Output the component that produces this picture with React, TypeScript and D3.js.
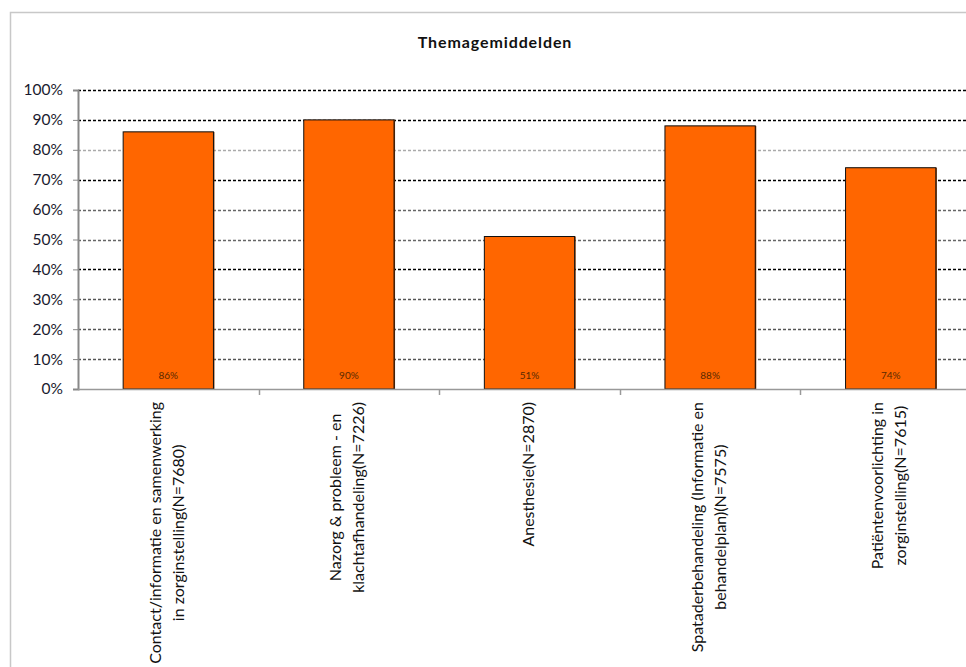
import React, { useEffect, useRef } from "react";
import * as d3 from "d3";

const title = "Themagemiddelden";
const categories: string[][] = [
  ["Contact/informatie en samenwerking", "in zorginstelling(N=7680)"],
  ["Nazorg & probleem - en", "klachtafhandeling(N=7226)"],
  ["Anesthesie(N=2870)"],
  ["Spataderbehandeling (Informatie en", "behandelplan)(N=7575)"],
  ["Patiëntenvoorlichting in", "zorginstelling(N=7615)"],
];
const values = [86, 90, 51, 88, 74];
const yTicks = [0, 10, 20, 30, 40, 50, 60, 70, 80, 90, 100];
const gridColors: Record<number, string> = {
  100: "#000", 90: "#000", 80: "#aaa", 70: "#000", 60: "#666",
  50: "#666", 40: "#000", 30: "#555", 20: "#555", 10: "#555",
};

const W = 966, H = 667;
const M = { left: 78, top: 90, right: 981, bottom: 389 };
const FONT = "Lato, 'Open Sans', sans-serif";

export default function App() {
  const ref = useRef<SVGSVGElement>(null);
  useEffect(() => {
    const svg = d3.select(ref.current);
    svg.selectAll("*").remove();
    const ids = categories.map((_, i) => String(i));
    const x = d3.scaleBand().domain(ids).range([M.left, M.right]).paddingInner(0.5).paddingOuter(0.25);
    const xb = d3.scaleBand().domain(ids).range([M.left, M.right]);
    const y = d3.scaleLinear().domain([0, 100]).range([M.bottom, M.top]);

    svg.append("rect").attr("width", W).attr("height", H).attr("fill", "#fff");
    // outer frame
    svg.append("rect").attr("x", 10.5).attr("y", 12.5).attr("width", 1000).attr("height", 1000)
      .attr("fill", "none").attr("stroke", "#c8c8c8").attr("stroke-width", 1.5);

    svg.append("text").attr("x", 495).attr("y", 48).attr("text-anchor", "middle")
      .attr("font-family", FONT).attr("font-weight", "bold").attr("font-size", 16)
      .attr("letter-spacing", 0.9).attr("fill", "#111").text(title);

    // gridlines
    yTicks.filter(t => t > 0).forEach(t => {
      svg.append("line").attr("x1", M.left).attr("x2", W).attr("y1", Math.round(y(t)) + 0.5).attr("y2", Math.round(y(t)) + 0.5)
        .attr("stroke", gridColors[t]).attr("stroke-width", 1.3).attr("stroke-dasharray", "3,2");
    });

    // y axis
    const yAxis = d3.axisLeft(y).tickValues(yTicks).tickFormat(d => `${d}%`).tickSize(5).tickPadding(10);
    const gy = svg.append("g").attr("transform", `translate(${M.left},0)`).call(yAxis);
    gy.select(".domain").attr("stroke", "#888").attr("stroke-width", 2);
    gy.selectAll(".tick line").attr("stroke", "#888");
    gy.selectAll(".tick text").attr("font-family", FONT).attr("font-size", 15.5).attr("fill", "#1a1a2e");

    // bars
    const g = svg.append("g");
    values.forEach((v, i) => {
      const bx = x(String(i))!, bw = x.bandwidth();
      g.append("rect").attr("x", bx + 1).attr("y", y(v)).attr("width", bw).attr("height", M.bottom - y(v))
        .attr("fill", "#7a3300");
      g.append("rect").attr("x", bx).attr("y", y(v)).attr("width", bw).attr("height", M.bottom - y(v))
        .attr("fill", "#ff6600").attr("stroke", "#111").attr("stroke-width", 1);
      g.append("text").attr("x", bx + bw / 2).attr("y", 379).attr("text-anchor", "middle")
        .attr("font-family", FONT).attr("font-size", 10).attr("fill", "#5a2a00").text(`${v}%`);
    });

    // x axis
    svg.append("line").attr("x1", M.left).attr("x2", W).attr("y1", M.bottom + 0.5).attr("y2", M.bottom + 0.5)
      .attr("stroke", "#999").attr("stroke-width", 1.5);
    ids.forEach(id => {
      const tx = Math.round(xb(id)! + xb.bandwidth()) + 0.5;
      svg.append("line").attr("x1", tx).attr("x2", tx).attr("y1", M.bottom).attr("y2", M.bottom + 6)
        .attr("stroke", "#999").attr("stroke-width", 1.5);
    });

    // category labels
    categories.forEach((lines, i) => {
      const cx = xb(String(i))! + xb.bandwidth() / 2;
      const grp = svg.append("g").attr("transform", `translate(${cx},402) rotate(-90)`);
      const texts = lines.map((l, j) => grp.append("text")
        .attr("y", (j - (lines.length - 1) / 2) * 23)
        .attr("dominant-baseline", "middle").attr("text-anchor", "middle")
        .attr("font-family", FONT).attr("font-size", 16).attr("fill", "#111").text(l));
      const maxW = d3.max(texts, t => (t.node() as SVGTextElement).getComputedTextLength()) || 0;
      texts.forEach(t => t.attr("x", -maxW / 2));
    });
  }, []);
  return <svg ref={ref} width={W} height={H} style={{ position: "absolute", left: 0, top: 0 }} />;
}
